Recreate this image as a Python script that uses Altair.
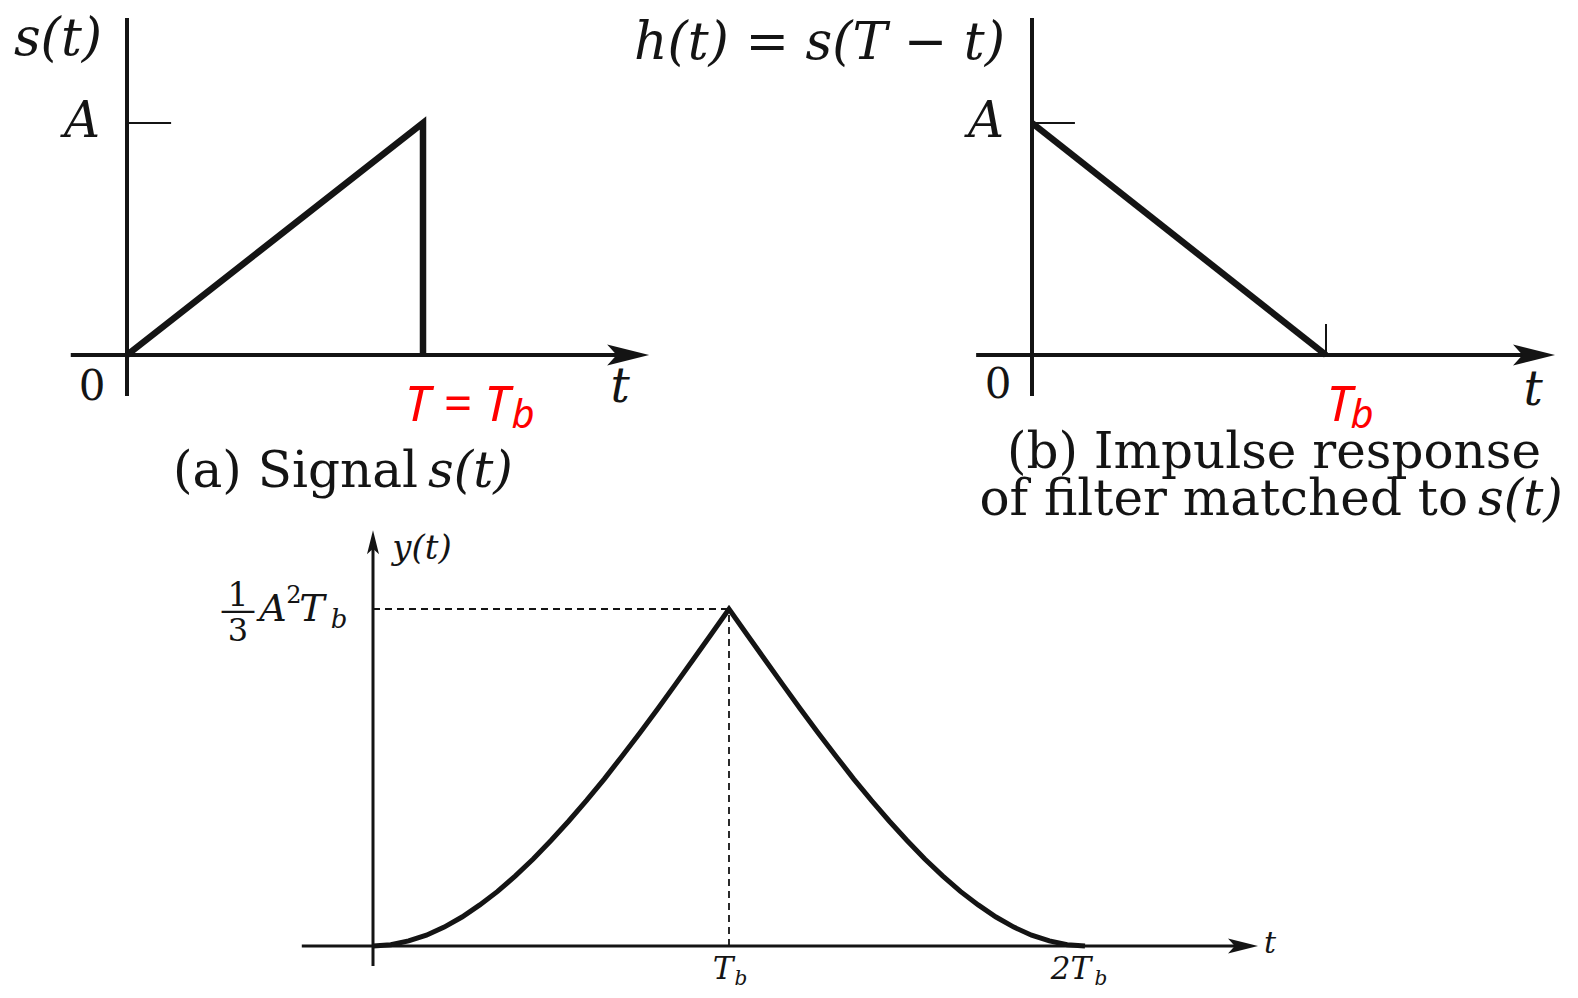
import altair as alt
import pandas as pd

# ---------------- data ----------------
# (a) signal s(t): ramp 0 -> A over [0, T], then back to 0  (t in units of T, value in units of A)
sig_t = [0.0, 1.0, 1.0]
sig_v = [0.0, 1.0, 0.0]
# (b) impulse response h(t) = s(T - t)
imp_t = [0.0, 1.0]
imp_v = [1.0, 0.0]
# (c) matched filter output y(t), t in units of Tb, value in units of (1/3) A^2 Tb
out_t = [0.0, 0.05, 0.1, 0.15, 0.2, 0.25, 0.3, 0.35, 0.4, 0.45, 0.5, 0.55, 0.6, 0.65, 0.7,
         0.75, 0.8, 0.85, 0.9, 0.95, 1.0, 1.05, 1.1, 1.15, 1.2, 1.25, 1.3, 1.35, 1.4, 1.45,
         1.5, 1.55, 1.6, 1.65, 1.7, 1.75, 1.8, 1.85, 1.9, 1.95, 2.0]
out_v = [0.0, 0.004, 0.015, 0.032, 0.056, 0.086, 0.122, 0.162, 0.208, 0.258, 0.313, 0.371,
         0.432, 0.496, 0.564, 0.633, 0.704, 0.777, 0.851, 0.925, 1.0, 0.925, 0.851, 0.777,
         0.704, 0.633, 0.564, 0.496, 0.432, 0.371, 0.313, 0.258, 0.208, 0.162, 0.122, 0.086,
         0.056, 0.032, 0.015, 0.004, 0.0]
# axis extents (data units of each panel)
axa_x = [-0.19, 1.70, 1.764]   # start, end of line, arrow tip
axa_y = [-0.177, 1.453]
axb_x = [-0.19, 1.72, 1.779]
axb_y = [-0.177, 1.453]
axc_x = [-0.20, 2.45, 2.486]
axc_y = [-0.059, 1.20, 1.234]
tick_a = [0.0, 0.149]          # tick at A
tick_b = [0.0, 0.146]
tick_tb = [0.0, 0.134]         # small tick at Tb in (b)

# texts
TXT_S = "s(t)"
TXT_H = "h(t) = s(T − t)"
TXT_A = "A"
TXT_0 = "0"
TXT_T = "t"
TXT_RED_A = "T = T"
TXT_SUB = "b"
TXT_RED_B = "T"
CAP_A = ["(a) Signal", "s(t)"]
CAP_B = ["(b) Impulse response", "of filter matched to", "s(t)"]
TXT_Y = "y(t)"
TXT_FRAC = ["1", "—", "3"]
TXT_PEAK = ["A", "2", "T", "b"]
TXT_TB = ["T", "b"]
TXT_2TB = ["2T", "b"]

# ---------------- helpers ----------------
SERIF = "DejaVu Serif"
SANS = "Noto Sans"
INK = "#141414"
RED = "#ff0000"
ARROW = "M0,0 L-2,-0.5 L-1.55,0 L-2,0.5 Z"


def S(r):
    return alt.Scale(domain=[0, 1], range=r, zero=False, nice=False)


XA, YA = S([119, 415]), S([347, 115])
XB, YB = S([1024, 1318]), S([347, 115])
XC, YC = S([365, 721]), S([938, 601])


def xy(ch, X, Y):
    return ch.encode(
        x=alt.X("x:Q", scale=X, axis=None),
        y=alt.Y("y:Q", scale=Y, axis=None),
    )


def hrule(X, Y, x0, x1, y, w, dash=None):
    df = pd.DataFrame({"x": [x0], "x2": [x1], "y": [y]})
    kw = dict(color=INK, strokeWidth=w)
    if dash:
        kw["strokeDash"] = dash
    return xy(alt.Chart(df).mark_rule(**kw), X, Y).encode(x2="x2:Q")


def vrule(X, Y, x, y0, y1, w, dash=None):
    df = pd.DataFrame({"x": [x], "y": [y0], "y2": [y1]})
    kw = dict(color=INK, strokeWidth=w)
    if dash:
        kw["strokeDash"] = dash
    return xy(alt.Chart(df).mark_rule(**kw), X, Y).encode(y2="y2:Q")


def arrow(X, Y, x, y, size, angle=0):
    df = pd.DataFrame({"x": [x], "y": [y]})
    kw = dict(shape=ARROW, filled=True, size=size, color=INK, opacity=1, strokeWidth=0)
    if angle:
        kw["angle"] = angle
    return xy(alt.Chart(df).mark_point(**kw), X, Y)


def path(X, Y, ts, vs, w):
    df = pd.DataFrame({"x": ts, "y": vs, "i": list(range(len(ts)))})
    return xy(alt.Chart(df).mark_line(color=INK, strokeWidth=w, strokeJoin="miter",
                                      strokeCap="butt"), X, Y).encode(order="i:Q")


def label(X, Y, x, y, text, dx, dy, size, style="normal", weight="normal",
          color=INK, font=SERIF, align="center"):
    df = pd.DataFrame({"x": [x], "y": [y], "text": [text]})
    return xy(alt.Chart(df).mark_text(dx=dx, dy=dy, fontSize=size, fontStyle=style,
                                      fontWeight=weight, color=color, font=font,
                                      align=align, baseline="middle"), X, Y).encode(text="text:N")


layers = []

# ---------------- panel (a) ----------------
layers += [
    hrule(XA, YA, axa_x[0], axa_x[1], 0, 4),
    arrow(XA, YA, axa_x[2], 0, 1764),
    vrule(XA, YA, 0, axa_y[0], axa_y[1], 4),
    hrule(XA, YA, tick_a[0], tick_a[1], 1, 2),
    path(XA, YA, sig_t, sig_v, 6.5),
    label(XA, YA, 0, 1, TXT_S, -69, -84, 52, style="italic"),
    label(XA, YA, 0, 1, TXT_A, -45, -1, 50, style="italic"),
    label(XA, YA, 0, 0, TXT_0, -35, 32, 42),
    label(XA, YA, 1, 0, TXT_RED_A, 34, 51, 50, style="italic", color=RED, font=SANS),
    label(XA, YA, 1, 0, TXT_SUB, 100, 61, 40, style="italic", color=RED, font=SANS),
    label(XA, YA, axa_x[2], 0, TXT_T, -29, 33, 48, style="italic"),
    label(XA, YA, 0, 0, CAP_A[0], 291, 117, 50, align="right"),
    label(XA, YA, 0, 0, CAP_A[1], 301, 117, 50, style="italic", align="left"),
]

# ---------------- panel (b) ----------------
layers += [
    hrule(XB, YB, axb_x[0], axb_x[1], 0, 4),
    arrow(XB, YB, axb_x[2], 0, 1764),
    vrule(XB, YB, 0, axb_y[0], axb_y[1], 4),
    hrule(XB, YB, tick_b[0], tick_b[1], 1, 2),
    vrule(XB, YB, 1, tick_tb[0], tick_tb[1], 2),
    path(XB, YB, imp_t, imp_v, 6.5),
    label(XB, YB, 0, 1, TXT_H, -27, -80, 52, style="italic", align="right"),
    label(XB, YB, 0, 1, TXT_A, -46, -1, 50, style="italic"),
    label(XB, YB, 0, 0, TXT_0, -34, 30, 42),
    label(XB, YB, 1, 0, TXT_RED_B, 13, 51, 50, style="italic", color=RED, font=SANS),
    label(XB, YB, 1, 0, TXT_SUB, 36, 61, 40, style="italic", color=RED, font=SANS),
    label(XB, YB, axb_x[2], 0, TXT_T, -22, 36, 48, style="italic"),
    label(XB, YB, 0, 0, CAP_B[0], 242, 98, 50),
    label(XB, YB, 0, 0, CAP_B[1], 436, 145, 50, align="right"),
    label(XB, YB, 0, 0, CAP_B[2], 446, 145, 50, style="italic", align="left"),
]

# ---------------- panel (c) ----------------
layers += [
    hrule(XC, YC, axc_x[0], axc_x[1], 0, 3),
    arrow(XC, YC, axc_x[2], 0, 900),
    vrule(XC, YC, 0, axc_y[0], axc_y[1], 3),
    arrow(XC, YC, 0, axc_y[2], 576, angle=270),
    hrule(XC, YC, 0, 1, 1, 1.8, dash=[7, 5]),
    vrule(XC, YC, 1, 0, 1, 1.8, dash=[7, 5]),
    path(XC, YC, out_t, out_v, 5),
    label(XC, YC, 0, 1, TXT_Y, 49, -60, 34, style="italic"),
    label(XC, YC, 0, 1, TXT_FRAC[0], -135, -13, 33),
    label(XC, YC, 0, 1, TXT_FRAC[1], -135, 1, 36),
    label(XC, YC, 0, 1, TXT_FRAC[2], -135, 22, 32),
    label(XC, YC, 0, 1, TXT_PEAK[0], -100, 1, 38, style="italic"),
    label(XC, YC, 0, 1, TXT_PEAK[1], -79, -13, 24),
    label(XC, YC, 0, 1, TXT_PEAK[2], -61, 1, 38, style="italic"),
    label(XC, YC, 0, 1, TXT_PEAK[3], -34, 11, 26, style="italic"),
    label(XC, YC, 1, 0, TXT_TB[0], -6, 24, 31, style="italic"),
    label(XC, YC, 1, 0, TXT_TB[1], 12, 33, 20, style="italic"),
    label(XC, YC, 2, 0, TXT_2TB[0], -14, 24, 31, style="italic"),
    label(XC, YC, 2, 0, TXT_2TB[1], 16, 33, 20, style="italic"),
    label(XC, YC, axc_x[2], 0, TXT_T, 12, -2, 30, style="italic"),
]

chart = (
    alt.layer(*layers)
    .resolve_scale(x="independent", y="independent")
    .properties(width=1562, height=982, padding=0, autosize=alt.AutoSizeParams(type="none"),
                background="white")
    .configure_view(stroke=None)
)

chart.save("out.html", embed_options={"renderer": "svg", "actions": False})
